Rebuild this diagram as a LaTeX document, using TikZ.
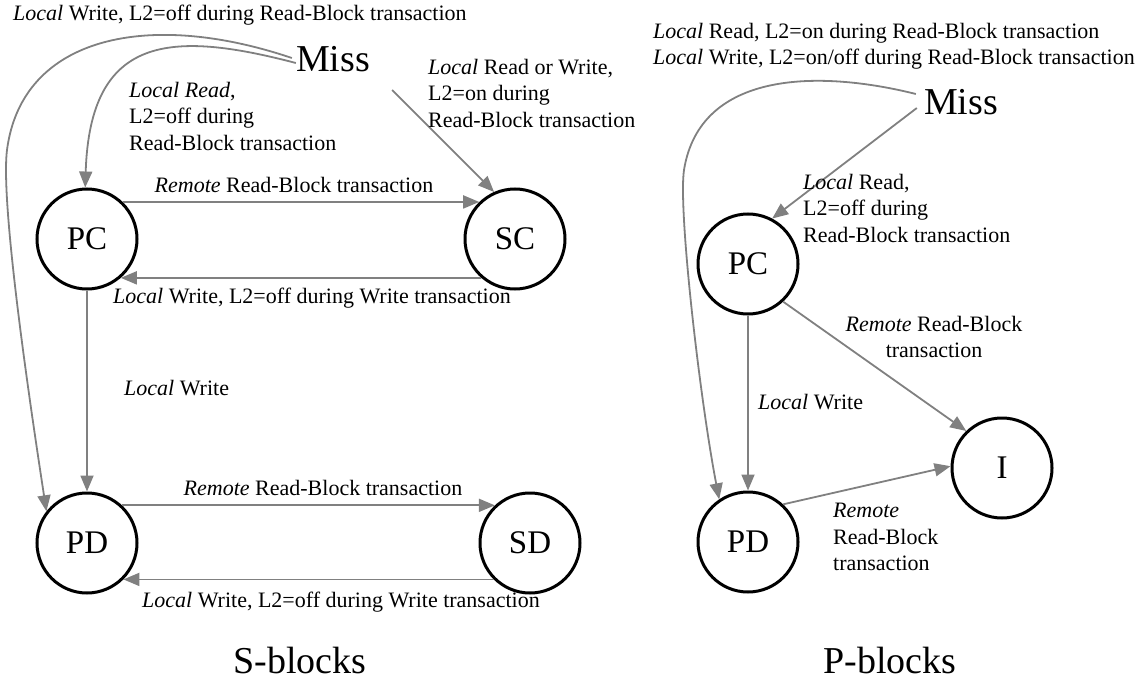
\documentclass[tikz,border=0pt]{standalone}
\usepackage{fontspec}
\setmainfont{Liberation Serif}
\usetikzlibrary{arrows.meta}
\tikzset{
  state/.style={circle, draw=black, line width=3pt, minimum size=100pt, inner sep=0pt,
    font=\fontsize{33}{33}\selectfont},
  missnode/.style={inner sep=4pt, font=\fontsize{38}{38}\selectfont},
  title/.style={inner sep=0pt, font=\fontsize{38}{38}\selectfont},
  lbl/.style={inner sep=0pt, font=\fontsize{22}{26.5}\selectfont},
  arr/.style={draw=gray, line width=1.8pt, -{Triangle[length=16pt,width=13pt]}},
}
\begin{document}
\begin{tikzpicture}[x=1pt, y=-1pt]
\useasboundingbox (0,0) rectangle (1140,679);

% ---------- S-blocks ----------
\node[state] (lPC) at (87,239) {PC};
\node[state] (lSC) at (515,239) {SC};
\node[state] (lPD) at (87,543) {PD};
\node[state] (lSD) at (530,543) {SD};
\node[missnode] (lMiss) at (333,59) {Miss};

\draw[arr] ([yshift=1pt]lMiss.west) .. controls (150,10) and (22,35) .. (7,150)
           .. controls (0,205) and (32,417) .. (lPD.142);
\draw[arr] ([xshift=4pt,yshift=-4pt]lMiss.west) .. controls (170,30) and (90,35) .. (lPC.92);
\draw[arr] ([xshift=18pt,yshift=-14pt]lMiss.south east) -- (lSC.114);
\draw[arr] (lPC.46) -- (lSC.134);
\draw[arr] (lSC.-131) -- (lPC.-49);
\draw[arr] (lPC.south) -- (lPD.north);
\draw[arr] (lPD.47) -- (lSD.133);
\draw[arr] (lSD.-135) -- (lPD.-45);

\node[lbl, anchor=west] (lLblW) at (13,15) {\textit{Local} Write, L2=off during Read-Block transaction};
\node[lbl, anchor=west, align=left] (lLblR) at (129,116)
  {\textit{Local Read},\\L2=off during\\Read-Block transaction};
\node[lbl, anchor=west, align=left] (lLblRW) at (428,93)
  {\textit{Local} Read or Write,\\L2=on during\\Read-Block transaction};
\node[lbl] (lLblPS) at (294,185) {\textit{Remote} Read-Block transaction};
\node[lbl] (lLblSP) at (312,298) {\textit{Local} Write, L2=off during Write transaction};
\node[lbl, anchor=west] (lLblLW) at (124,388) {\textit{Local} Write};
\node[lbl] (lLblDS) at (323,488) {\textit{Remote} Read-Block transaction};
\node[lbl] (lLblSD) at (341,602) {\textit{Local} Write, L2=off during Write transaction};

\node[title] (sTitle) at (300,660) {S-blocks};

% ---------- P-blocks ----------
\node[state] (rPC) at (748,264) {PC};
\node[state] (rPD) at (748,542) {PD};
\node[state] (rI) at (1002,468) {I};
\node[missnode] (rMiss) at (961,102) {Miss};

\draw[arr] ([xshift=-4pt,yshift=8pt]rMiss.west) .. controls (820,70) and (700,70) .. (684,170)
           .. controls (678,210) and (700,400) .. (rPD.124);
\draw[arr] ([xshift=-3pt,yshift=-6pt]rMiss.west) -- (rPC.62);
\draw[arr] (rPC.south) -- (rPD.north);
\draw[arr] (rPC.-47) -- (rI.134);
\draw[arr] (rPD.47) -- (rI.178);

\node[lbl, anchor=west, align=left] (rLblTop) at (653,46)
  {\textit{Local} Read, L2=on during Read-Block transaction\\
   \textit{Local} Write, L2=on/off during Read-Block transaction};
\node[lbl, anchor=west, align=left] (rLblR) at (803,208)
  {\textit{Local} Read,\\L2=off during\\Read-Block transaction};
\node[lbl, align=center] (rLblPI) at (934,337)
  {\textit{Remote} Read-Block\\transaction};
\node[lbl, anchor=west] (rLblLW) at (758,402) {\textit{Local} Write};
\node[lbl, anchor=west, align=left] (rLblDI) at (833,537)
  {\textit{Remote}\\Read-Block\\transaction};

\node[title] (pTitle) at (890,660) {P-blocks};
\end{tikzpicture}
\end{document}
